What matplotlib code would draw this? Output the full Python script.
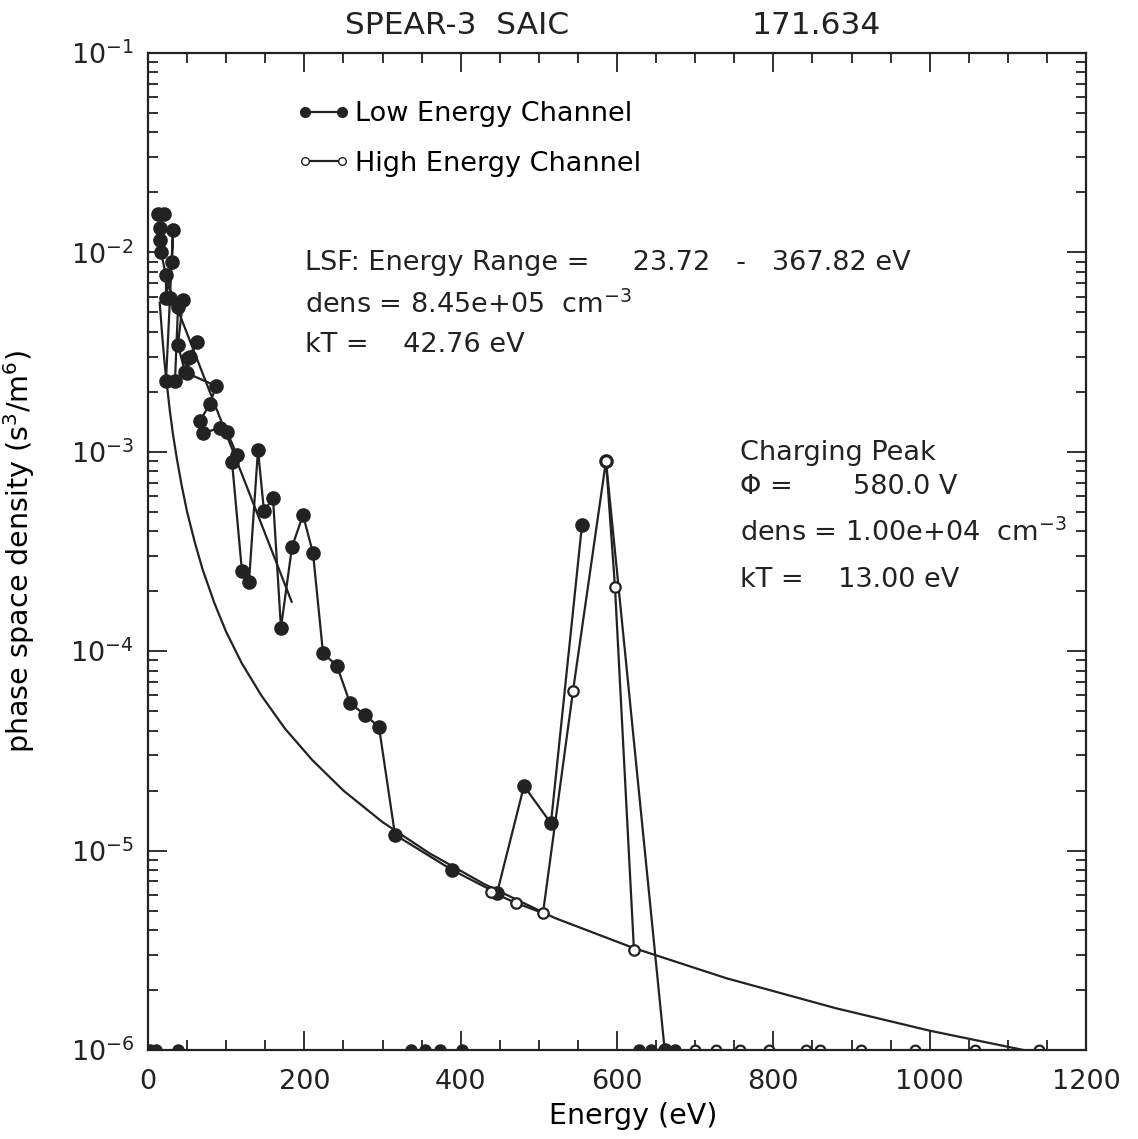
import matplotlib
matplotlib.use("Agg")
import matplotlib.pyplot as plt
import numpy as np
from matplotlib.ticker import LogLocator, MultipleLocator, LogFormatterMathtext
from matplotlib.lines import Line2D

# low energy channel (filled), in drawing order; nan breaks the line
low_E = [12.8, 20.5, 15.4, 15.4, 16.6, 23.0, 23.0, 30.7, 32.0, 28.1, 23.0, 34.5,
         38.4, 44.8, 38.4, 47.3, 51.2, 62.7, 53.7, 49.9, 87.0, 79.3, 66.5, 70.4,
         92.1, 101.1, 113.9, 107.5, 120.2, 129.2, 140.7, 148.4, 159.9, 170.1,
         184.2, 198.3, 211.1, 223.9, 241.8, 258.4, 277.6, 295.5, 316.0, 388.9,
         446.5, 481.0, 515.5, 555.2, np.nan, 585.9, 661.0]
low_f = [1.56e-2, 1.56e-2, 1.32e-2, 1.15e-2, 1.00e-2, 7.7e-3, 5.9e-3, 8.95e-3,
         1.29e-2, 5.9e-3, 2.26e-3, 2.26e-3, 5.3e-3, 5.8e-3, 3.43e-3, 2.51e-3,
         2.95e-3, 3.56e-3, 2.99e-3, 2.48e-3, 2.14e-3, 1.74e-3, 1.43e-3, 1.24e-3,
         1.32e-3, 1.26e-3, 9.64e-4, 8.89e-4, 2.52e-4, 2.22e-4, 1.02e-3, 5.05e-4,
         5.86e-4, 1.31e-4, 3.33e-4, 4.82e-4, 3.10e-4, 9.8e-5, 8.43e-5, 5.50e-5,
         4.79e-5, 4.17e-5, 1.20e-5, 8.0e-6, 6.12e-6, 2.11e-5, 1.37e-5, 4.30e-4,
         np.nan, 9.0e-4, 1.0e-6]

# high energy channel (open)
high_E = [438.8, 470.8, 505.3, 543.7, 585.9, 597.4, 621.7]
high_f = [6.22e-6, 5.46e-6, 4.86e-6, 6.31e-5, 9.0e-4, 2.10e-4, 3.17e-6]

# zero-count points sitting on the bottom axis
low_zero_E = [3, 10, 38, 337, 355, 373, 402, 628, 643, 674]
high_zero_E = [700, 727, 757, 795, 842, 860, 912, 981, 1058, 1140]
floor_f = 1e-6

# one-count level curve
curve_E = [15, 18, 21, 24, 28, 32, 37, 43, 50, 60, 70, 85, 100, 120, 145, 175,
           210, 250, 300, 360, 430, 520, 620, 740, 880, 1000, 1120, 1200]
curve_f = [5.6e-3, 3.9e-3, 2.85e-3, 2.2e-3, 1.6e-3, 1.22e-3, 9.2e-4, 6.8e-4,
           5.0e-4, 3.5e-4, 2.56e-4, 1.74e-4, 1.25e-4, 8.7e-5, 6.0e-5, 4.1e-5,
           2.85e-5, 2.0e-5, 1.39e-5, 9.7e-6, 6.8e-6, 4.6e-6, 3.26e-6, 2.29e-6,
           1.62e-6, 1.25e-6, 1.0e-6, 8.7e-7]

# LSF maxwellian fit line (straight in semilog)
fit_E = [23.72, 183.8]
fit_f = [7.2e-3, 1.77e-4]

plt.rcParams['font.family'] = ['DejaVu Sans']
FS = 19.5
K = "#222222"

fig = plt.figure(figsize=(11.38, 11.39), dpi=100)
ax = fig.add_axes([148/1138, 1-1050/1139, 938/1138, 997/1139])
ax.set_yscale("log")
ax.set_xlim(0, 1200); ax.set_ylim(1e-6, 1e-1)

ax.plot(curve_E, curve_f, color=K, lw=1.6)
ax.plot(fit_E, fit_f, color=K, lw=1.6)
ax.plot(low_E, low_f, color=K, lw=1.6, marker="o", ms=9.5, mfc=K, mec=K)
ax.plot(high_E, high_f, color=K, lw=1.6, marker="o", ms=7.5, mfc="white", mec=K, mew=1.6)
ax.plot(low_zero_E, [floor_f]*len(low_zero_E), ls="none", marker="o", ms=8, mfc=K, mec=K)
ax.plot(high_zero_E, [floor_f]*len(high_zero_E), ls="none", marker="o", ms=7,
        mfc="white", mec=K, mew=1.6)

# ticks
ax.xaxis.set_major_locator(MultipleLocator(200))
ax.xaxis.set_minor_locator(MultipleLocator(50))
ax.yaxis.set_major_locator(LogLocator(base=10, numticks=10))
ax.yaxis.set_minor_locator(LogLocator(base=10, subs=np.arange(2, 10), numticks=10))
ax.yaxis.set_major_formatter(LogFormatterMathtext())
ax.tick_params(which="both", direction="in", top=True, right=True, width=1.3, colors=K)
ax.tick_params(which="major", length=14, labelsize=FS, pad=10)
ax.tick_params(axis="x", which="major", pad=14)
ax.tick_params(which="minor", length=7)
for s in ax.spines.values():
    s.set_linewidth(1.6); s.set_color(K)

ax.set_xlabel("Energy (eV)", fontsize=FS + 1)
ax.xaxis.set_label_coords(0.517, -0.052)
ax.set_ylabel("phase space density (s$^3$/m$^6$)", fontsize=FS + 1)
ax.yaxis.set_label_coords(-0.118, 0.5)

# legend
h1 = Line2D([], [], color=K, lw=1.6, marker="o", ms=7, mfc=K, mec=K)
h2 = Line2D([], [], color=K, lw=1.6, marker="o", ms=5.5, mfc="white", mec=K)
ax.legend([h1, h2], ["Low Energy Channel", "High Energy Channel"], loc="upper left",
          bbox_to_anchor=(0.133, 0.976), numpoints=2, handlelength=1.95,
          handletextpad=0.2, labelspacing=0.87, frameon=False, fontsize=FS)

tx = dict(transform=ax.transAxes, fontsize=FS, va="center", ha="left", color=K)
ax.text(0.167, 0.789, "LSF: Energy Range =     23.72   -   367.82 eV", **tx)
ax.text(0.167, 0.747, "dens = 8.45e+05  cm$^{-3}$", **tx)
ax.text(0.167, 0.707, "kT =    42.76 eV", **tx)
ax.text(0.631, 0.599, "Charging Peak", **tx)
ax.text(0.631, 0.565, "\u03a6 =       580.0 V", **tx)
ax.text(0.631, 0.519, "dens = 1.00e+04  cm$^{-3}$", **tx)
ax.text(0.631, 0.471, "kT =    13.00 eV", **tx)

fig.text(345/1138, 1-25/1139, "SPEAR-3  SAIC", fontsize=22.5, va="center", ha="left", color=K)
fig.text(752/1138, 1-25/1139, "171.634", fontsize=22.5, va="center", ha="left", color=K)

fig.savefig("out.png", dpi=100)
